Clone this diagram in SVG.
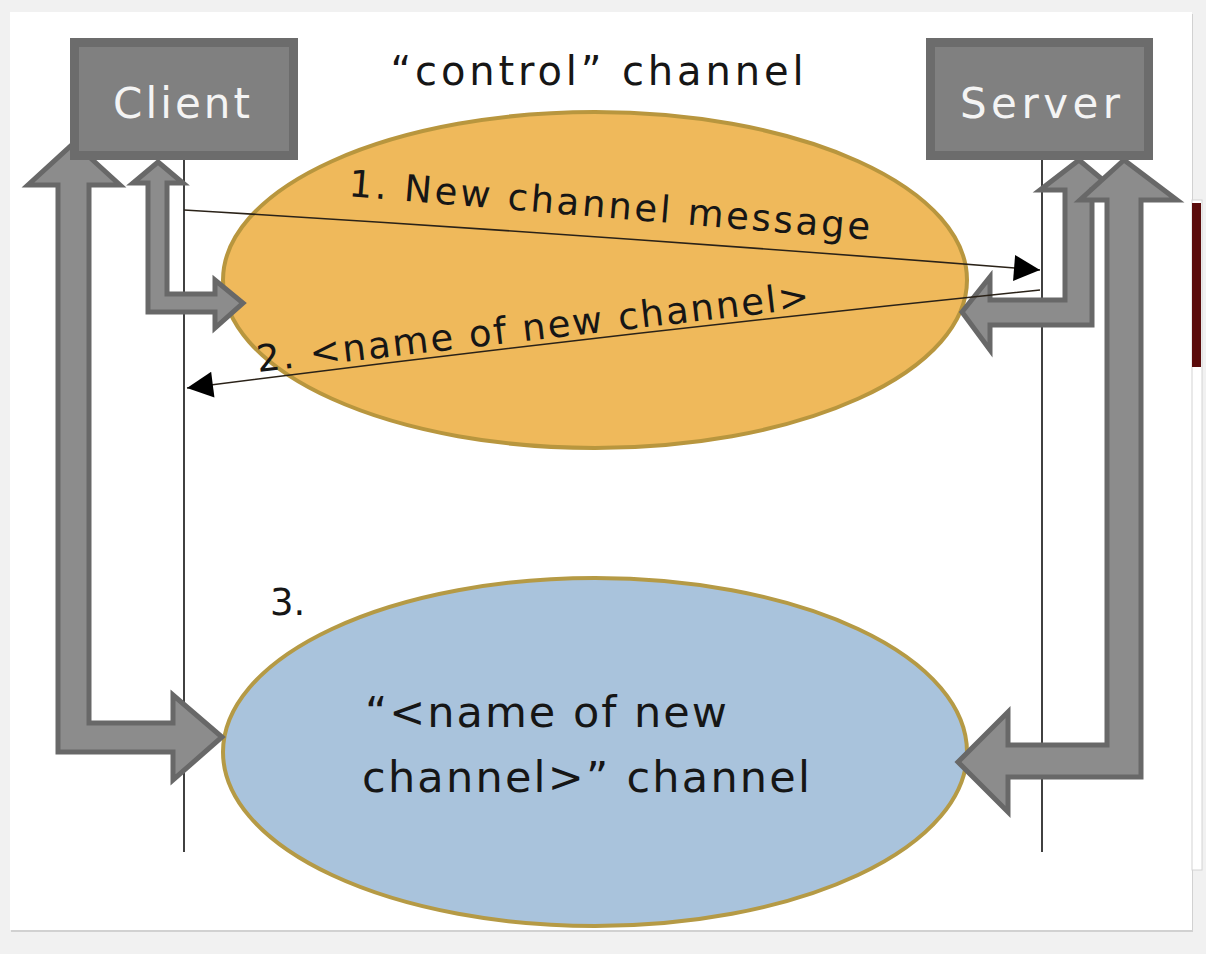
<svg xmlns="http://www.w3.org/2000/svg" width="1206" height="954" viewBox="0 0 1206 954">
  <defs>
    <style>
      .box { fill: #808080; stroke: #6c6c6c; stroke-width: 9; }
      .boxtxt { font-family: "DejaVu Sans", Verdana, sans-serif; font-size: 42px; fill: #f4f4f4; }
      .txt { font-family: "DejaVu Sans", Verdana, sans-serif; fill: #161616; }
      .block { fill: #8c8c8c; stroke: #686868; stroke-width: 5; stroke-linejoin: miter; }
      .life { stroke: #111; stroke-width: 1.6; fill: none; }
      .msg { stroke: #2a2218; stroke-width: 1.6; fill: none; }
    </style>
    <marker id="ah" viewBox="0 0 10 10" refX="10" refY="5" markerWidth="30" markerHeight="26" markerUnits="userSpaceOnUse" orient="auto">
      <path d="M0,0 L10,5 L0,10 Z" fill="#000"/>
    </marker>
  </defs>

  <rect x="0" y="0" width="1206" height="954" fill="#f1f1f1"/>
  <rect x="11" y="14" width="1182" height="918" fill="#bdbdbd" opacity="0.6"/>
  <rect x="10" y="12" width="1182" height="918" fill="#ffffff"/>
  <rect x="1192" y="200" width="10" height="670" fill="#ffffff" stroke="#d4d4d4" stroke-width="1"/>
  <rect x="1192" y="203" width="9" height="164" fill="#5a0b0b"/>

  <g id="control-channel">
    <ellipse cx="595" cy="280" rx="372" ry="168" fill="#efb95b" stroke="#b8963e" stroke-width="4"/>
    <text class="txt" x="597" y="85" font-size="40" text-anchor="middle" textLength="413" lengthAdjust="spacing">“control” channel</text>
  </g>

  <g id="new-channel">
    <ellipse cx="595" cy="752" rx="372" ry="174" fill="#a9c3dc" stroke="#b59a45" stroke-width="4"/>
    <text class="txt" x="365" y="727" font-size="43" textLength="362" lengthAdjust="spacing">“&lt;name of new</text>
    <text class="txt" x="362" y="792" font-size="43" textLength="448" lengthAdjust="spacing">channel&gt;” channel</text>
  </g>

  <g id="lifelines">
    <line class="life" x1="184" y1="160" x2="184" y2="852"/>
    <line class="life" x1="1042" y1="160" x2="1042" y2="852"/>
  </g>

  <g id="connectors">
    <path class="block" d="M74,143 L120,185 L89,185 L89,723 L173,723 L173,695 L222,737 L173,780 L173,752 L58,752 L58,185 L28,185 Z"/>
    <path class="block" d="M158,162 L183,183 L167,183 L167,294 L215,294 L215,280 L243,303 L215,328 L215,312 L148,312 L148,183 L133,183 Z"/>
    <path class="block" d="M1079,160 L1115,190 L1092,190 L1092,325 L990,325 L990,350 L962,312 L990,277 L990,300 L1065,300 L1065,190 L1040,190 Z"/>
    <path class="block" d="M1124,160 L1177,200 L1141,200 L1141,777 L1008,777 L1008,812 L958,762 L1008,712 L1008,745 L1107,745 L1107,200 L1080,200 Z"/>
    <path class="msg" d="M184,210 Q600,235 1040,270" marker-end="url(#ah)"/>
    <path class="msg" d="M1040,290 Q600,335 187,388" marker-end="url(#ah)"/>
  </g>

  <g id="labels">
    <text class="txt" x="348" y="196" font-size="37" transform="rotate(4.8 348 196)" textLength="523" lengthAdjust="spacing">1. New channel message</text>
    <text class="txt" x="258" y="372" font-size="37" transform="rotate(-6.6 258 372)" textLength="556" lengthAdjust="spacing">2. &lt;name of new channel&gt;</text>
    <text class="txt" x="270" y="615" font-size="37">3.</text>
  </g>

  <g id="client">
    <rect class="box" x="74.5" y="42.5" width="219" height="113"/>
    <text class="boxtxt" x="113" y="118" textLength="137" lengthAdjust="spacing">Client</text>
  </g>

  <g id="server">
    <rect class="box" x="930.5" y="42.5" width="218" height="113"/>
    <text class="boxtxt" x="960" y="118" textLength="160" lengthAdjust="spacing">Server</text>
  </g>
</svg>
